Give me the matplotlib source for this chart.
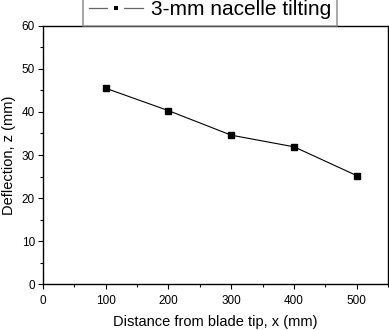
import matplotlib
matplotlib.use("Agg")
import matplotlib.pyplot as plt
from matplotlib.ticker import MultipleLocator
from matplotlib.lines import Line2D

plt.rcParams['font.family'] = ['Liberation Sans', 'DejaVu Sans']

x_mm = [100, 200, 300, 400, 500]
deflection = [45.5, 40.3, 34.6, 31.9, 25.2]
series_label = "3-mm nacelle tilting"

W, H = 389, 330
fig = plt.figure(figsize=(W/100, H/100), dpi=100)
ax = fig.add_axes([42.7/W, 1-284.3/H, (388.3-42.7)/W, (284.3-25.7)/H])

ax.plot(x_mm, deflection, color='black', lw=0.8, marker='s', ms=5,
        mfc='black', mec='black', label=series_label)

ax.set_xlim(0, 550)
ax.set_ylim(0, 60)
ax.xaxis.set_major_locator(MultipleLocator(100))
ax.xaxis.set_minor_locator(MultipleLocator(50))
ax.yaxis.set_major_locator(MultipleLocator(10))
ax.yaxis.set_minor_locator(MultipleLocator(5))
ax.tick_params(which='both', direction='out', labelsize=8.5, width=0.8, color='black')
ax.tick_params(which='major', length=3.5)
ax.tick_params(which='minor', length=2)
ax.tick_params(axis='x', pad=4)
ax.tick_params(axis='y', pad=2)
for s in ax.spines.values():
    s.set_linewidth(1.0)

ax.set_xlabel("Distance from blade tip, x (mm)", fontsize=10.5, labelpad=6)
ax.set_ylabel("Deflection, z (mm)", fontsize=10.5, labelpad=4)

handle = Line2D([], [], color='#666666', lw=0.9, marker='s', ms=7.3,
                mfc='black', mec='white', mew=4.3)
leg = fig.legend([handle], [series_label], loc='upper center',
                 bbox_to_anchor=(210/W, 1+6/H), fontsize=15,
                 frameon=True, fancybox=False, edgecolor='#808080',
                 handlelength=2.6, handletextpad=0.35, borderpad=0.3,
                 borderaxespad=0)
leg.get_frame().set_linewidth(1.2)

fig.savefig("out.png", dpi=100)
